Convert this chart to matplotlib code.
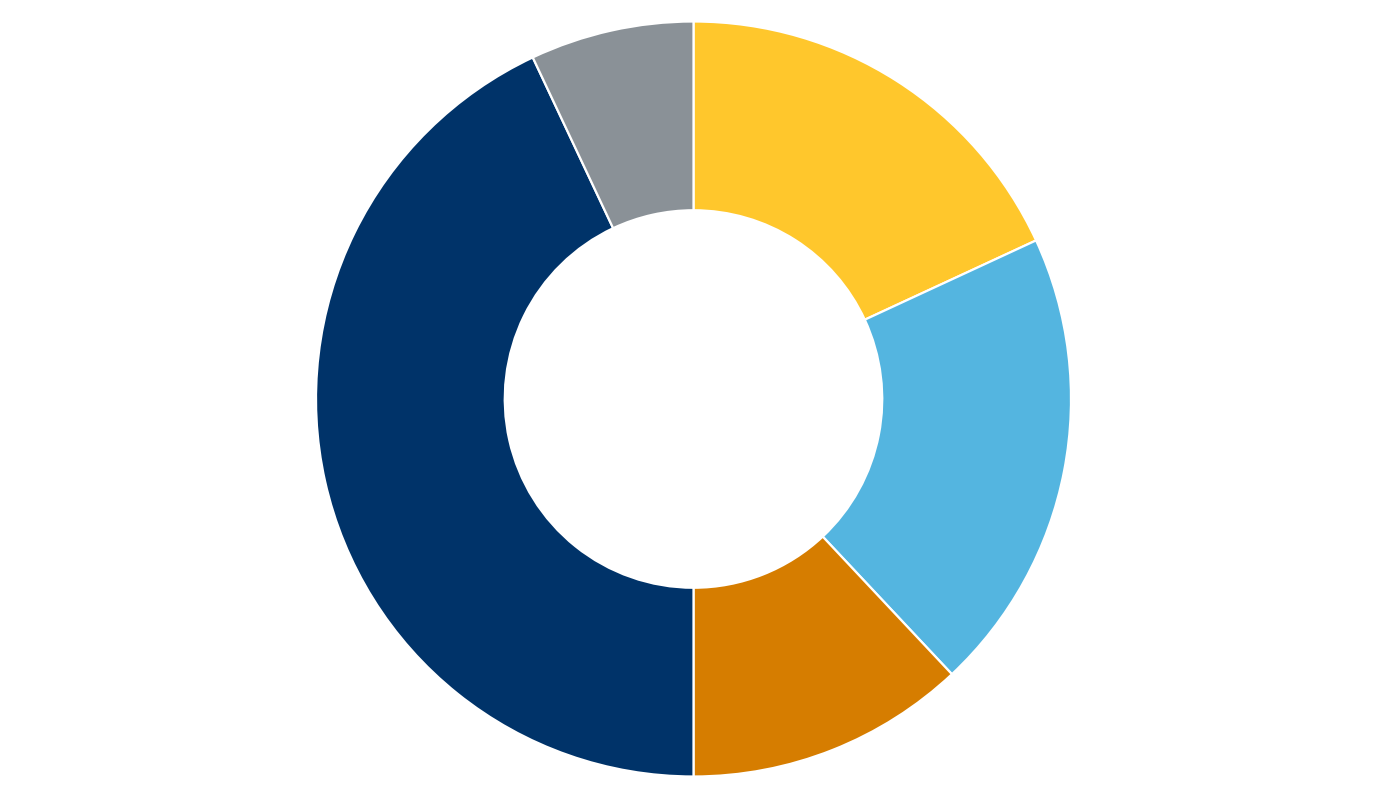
import matplotlib
matplotlib.use("Agg")
import matplotlib.pyplot as plt

labels = ["A", "B", "C", "D", "E"]
values = [18.1, 19.9, 12.0, 43.0, 7.0]
colors = ["#FFC72C", "#54B5E0", "#D67D00", "#003369", "#8A9197"]

fig = plt.figure(figsize=(13.8, 8), dpi=100)
ax = fig.add_axes([316/1380, 23.5/800, 755/1380, 755/800])
ax.pie(values, colors=colors, startangle=90, counterclock=False,
       radius=1.0, wedgeprops=dict(width=0.50, edgecolor="white", linewidth=1.6))
ax.set_xlim(-1, 1)
ax.set_ylim(-1, 1)
ax.set_aspect("equal")
ax.axis("off")
fig.savefig("out.png", dpi=100, facecolor="white")
